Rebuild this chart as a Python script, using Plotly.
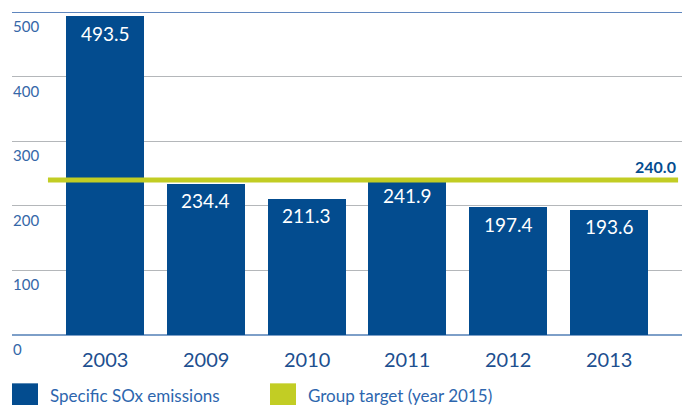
import plotly.graph_objects as go

years = ["2003", "2009", "2010", "2011", "2012", "2013"]
sox = [493.5, 234.4, 211.3, 241.9, 197.4, 193.6]
target = 240.0
y_ticks = [0, 100, 200, 300, 400, 500]
legend_labels = ["Specific SOx emissions", "Group target (year 2015)"]

BAR = "#034c8f"
GREEN = "#c2cd24"
TICK = "#3567a8"
YEAR = "#1d4f8f"
FONT = "Lato, 'Open Sans', sans-serif"

OFF = 8  # page body margin offset
W, H = 692, 405
L = 12 - OFF
T = 12 - OFF
R = W - (682 - OFF)
B = H - (334.7 - OFF)
pw = W - L - R
ph = H - T - B

fig = go.Figure()
fig.add_trace(go.Bar(
    x=list(range(len(years))), y=sox, marker=dict(color=BAR, line=dict(width=0)),
    width=0.774, showlegend=False, hoverinfo="skip",
))

for i, v in enumerate(sox):
    fig.add_annotation(x=i, y=v, text=f"{v:.1f}", showarrow=False, yshift=-17,
                       yanchor="middle", xanchor="center",
                       font=dict(family=FONT, size=19, color="white"))
for i, yr in enumerate(years):
    fig.add_annotation(x=i, y=0, text=yr, showarrow=False, yshift=-24,
                       yanchor="middle", xanchor="center",
                       font=dict(family=FONT, size=20, color=YEAR))
for t in y_ticks:
    fig.add_annotation(xref="paper", x=0, y=t, text=str(t), showarrow=False,
                       xanchor="left", yanchor="middle", yshift=-14, xshift=-1,
                       font=dict(family=FONT, size=15, color=TICK))

fig.add_shape(type="line", xref="paper", x0=0, x1=1, yref="y", y0=500, y1=500,
              line=dict(color="#2a5ea8", width=1.5), layer="above")
fig.add_shape(type="line", xref="x", x0=-0.566, x1=5.685, yref="y", y0=target, y1=target,
              line=dict(color=GREEN, width=5), layer="above")
fig.add_annotation(x=5.685, y=target, text=f"<b>{target:.1f}</b>", showarrow=False,
                   xanchor="right", yanchor="middle", yshift=13,
                   font=dict(family=FONT, size=16, color=BAR))

def px_x(p):
    return (p - OFF - L) / pw
def px_y(p):
    return (H - B - (p - OFF)) / ph

leg_x = [12, 270]
leg_colors = [BAR, GREEN]
for lx, c, lab in zip(leg_x, leg_colors, legend_labels):
    fig.add_shape(type="rect", xref="paper", yref="paper",
                  x0=px_x(lx), x1=px_x(lx + 26), y0=px_y(383), y1=px_y(410),
                  fillcolor=c, line=dict(width=0))
    fig.add_annotation(xref="paper", yref="paper", x=px_x(lx + 36), y=px_y(395),
                       text=lab, showarrow=False, xanchor="left", yanchor="middle",
                       font=dict(family=FONT, size=17, color="#2d66ae"))

fig.update_layout(
    width=W, height=H, margin=dict(l=L, r=R, t=T, b=B),
    paper_bgcolor="white", plot_bgcolor="white",
    bargap=0, showlegend=False,
    xaxis=dict(range=[-0.9226, 5.724], showticklabels=False, showgrid=False,
               zeroline=False, showline=False, ticks=""),
    yaxis=dict(range=[0, 500], tickvals=y_ticks, showticklabels=False,
               showgrid=True, gridcolor="#b4b7ba", gridwidth=1,
               zeroline=True, zerolinecolor="#7d9fc8", zerolinewidth=1.5,
               showline=False, ticks=""),
)

fig.write_html("out.html")
